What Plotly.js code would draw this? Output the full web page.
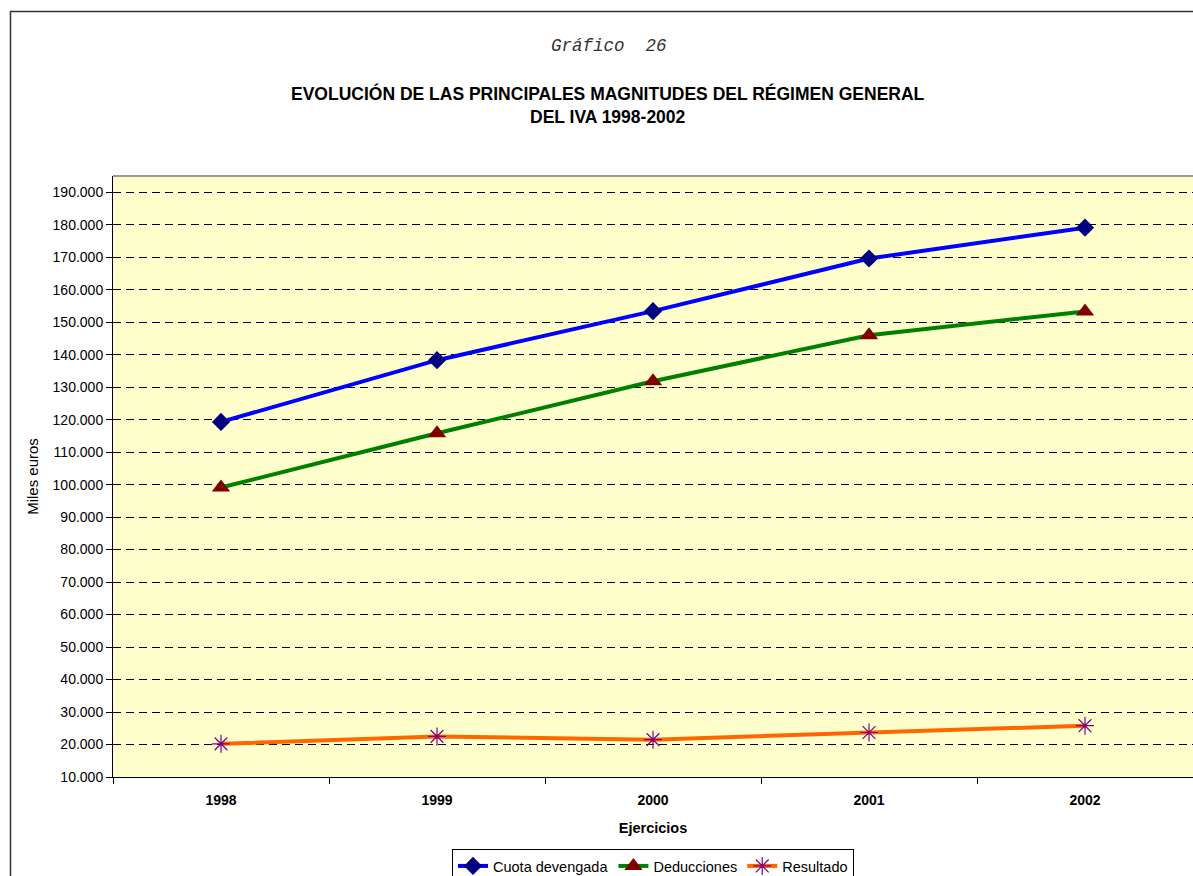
<!DOCTYPE html>
<html>
<head>
<meta charset="utf-8">
<script src="https://cdn.plot.ly/plotly-3.0.1.min.js"></script>
<style>
html,body{margin:0;padding:0;background:#fff;}
#chart{width:1193px;height:876px;}
</style>
</head>
<body>
<div id="chart"></div>
<script>
const years = ['1998', '1999', '2000', '2001', '2002'];
const cuotaDevengada = [119300, 138300, 153400, 169600, 179100];
const deducciones = [99100, 115800, 131800, 146000, 153300];
const resultado = [20200, 22500, 21500, 23700, 25800];
const seriesNames = ['Cuota devengada', 'Deducciones', 'Resultado'];
const yTickValues = [10000, 20000, 30000, 40000, 50000, 60000, 70000, 80000, 90000, 100000,
  110000, 120000, 130000, 140000, 150000, 160000, 170000, 180000, 190000];

const FONT = 'Liberation Sans, Arial, sans-serif';

const traces = [
  {x: years, y: cuotaDevengada, name: seriesNames[0], type: 'scatter', mode: 'lines+markers',
   line: {color: '#0000FF', width: 4},
   marker: {symbol: 'diamond', size: 14, color: '#000080'}},
  {x: years, y: deducciones, name: seriesNames[1], type: 'scatter', mode: 'lines+markers',
   line: {color: '#008000', width: 4},
   marker: {symbol: 'triangle-up', size: 16, color: '#800000'}},
  {x: years, y: resultado, name: seriesNames[2], type: 'scatter', mode: 'lines+markers',
   line: {color: '#FF6600', width: 4},
   marker: {symbol: 'asterisk-open', size: 15, color: '#800080', line: {color: '#800080', width: 1.2}}}
];

const layout = {
  width: 1193, height: 876,
  margin: {l: 113, r: 0, t: 176, b: 99, pad: 0, autoexpand: false},
  paper_bgcolor: '#FFFFFF',
  plot_bgcolor: '#FFFFCC',
  separators: ',.',
  font: {family: FONT, size: 14, color: '#000'},
  showlegend: true,
  legend: {orientation: 'h', x: 0.5, xanchor: 'center', y: (777 - 849) / 601, yanchor: 'top',
    bordercolor: '#000', borderwidth: 1, bgcolor: '#FFF',
    font: {family: FONT, size: 14.5, color: '#000'},
    itemwidth: 30, tracegroupgap: 0},
  xaxis: {
    type: 'category', range: [-0.5, 4.5], fixedrange: true,
    showgrid: false, zeroline: false,
    showline: true, linecolor: '#000', linewidth: 1,
    ticks: 'outside', ticklen: 6, tickcolor: '#000', tickson: 'boundaries',
    ticklabelstandoff: 10,
    tickfont: {family: FONT, size: 14, color: '#000', weight: 'bold'},
    title: {text: '<b>Ejercicios</b>', font: {size: 14.5, family: FONT}, standoff: 16}
  },
  yaxis: {
    range: [10000, 195000], fixedrange: true,
    tickvals: yTickValues, tickformat: ',.0f',
    showgrid: true, gridcolor: '#000', gridwidth: 1, griddash: '8px,5px',
    zeroline: false,
    showline: true, linecolor: '#000', linewidth: 1,
    ticks: 'outside', ticklen: 6, tickcolor: '#000',
    tickfont: {family: FONT, size: 14, color: '#000'},
    title: {text: 'Miles euros', font: {size: 15, family: FONT}, standoff: 10}
  },
  annotations: [
    {text: '<i>Gráfico  26</i>', xref: 'paper', yref: 'paper', x: (609 - 113) / 1080, y: (777 - 46) / 601,
     xanchor: 'center', yanchor: 'middle', showarrow: false,
     font: {family: 'Liberation Mono, Courier New, monospace', size: 17.5, color: '#333'}},
    {text: '<b>EVOLUCIÓN DE LAS PRINCIPALES MAGNITUDES DEL RÉGIMEN GENERAL</b>', xref: 'paper', yref: 'paper',
     x: (608 - 113) / 1080, y: (777 - 94) / 601, xanchor: 'center', yanchor: 'middle', showarrow: false,
     font: {family: FONT, size: 17.5, color: '#000'}},
    {text: '<b>DEL IVA 1998-2002</b>', xref: 'paper', yref: 'paper',
     x: (608 - 113) / 1080, y: (777 - 117) / 601, xanchor: 'center', yanchor: 'middle', showarrow: false,
     font: {family: FONT, size: 17.5, color: '#000'}}
  ],
  shapes: [
    {type: 'line', xref: 'paper', yref: 'paper', x0: 0, x1: 1, y0: 1, y1: 1,
     line: {color: '#999', width: 2}},
    {type: 'rect', xref: 'paper', yref: 'paper', x0: (10.5 - 113) / 1080, x1: (1250 - 113) / 1080,
     y0: (777 - 950) / 601, y1: (777 - 11.5) / 601, line: {color: '#333', width: 1.5}, layer: 'below'}
  ]
};

Plotly.newPlot('chart', traces, layout, {displayModeBar: false, staticPlot: true});
</script>
</body>
</html>
